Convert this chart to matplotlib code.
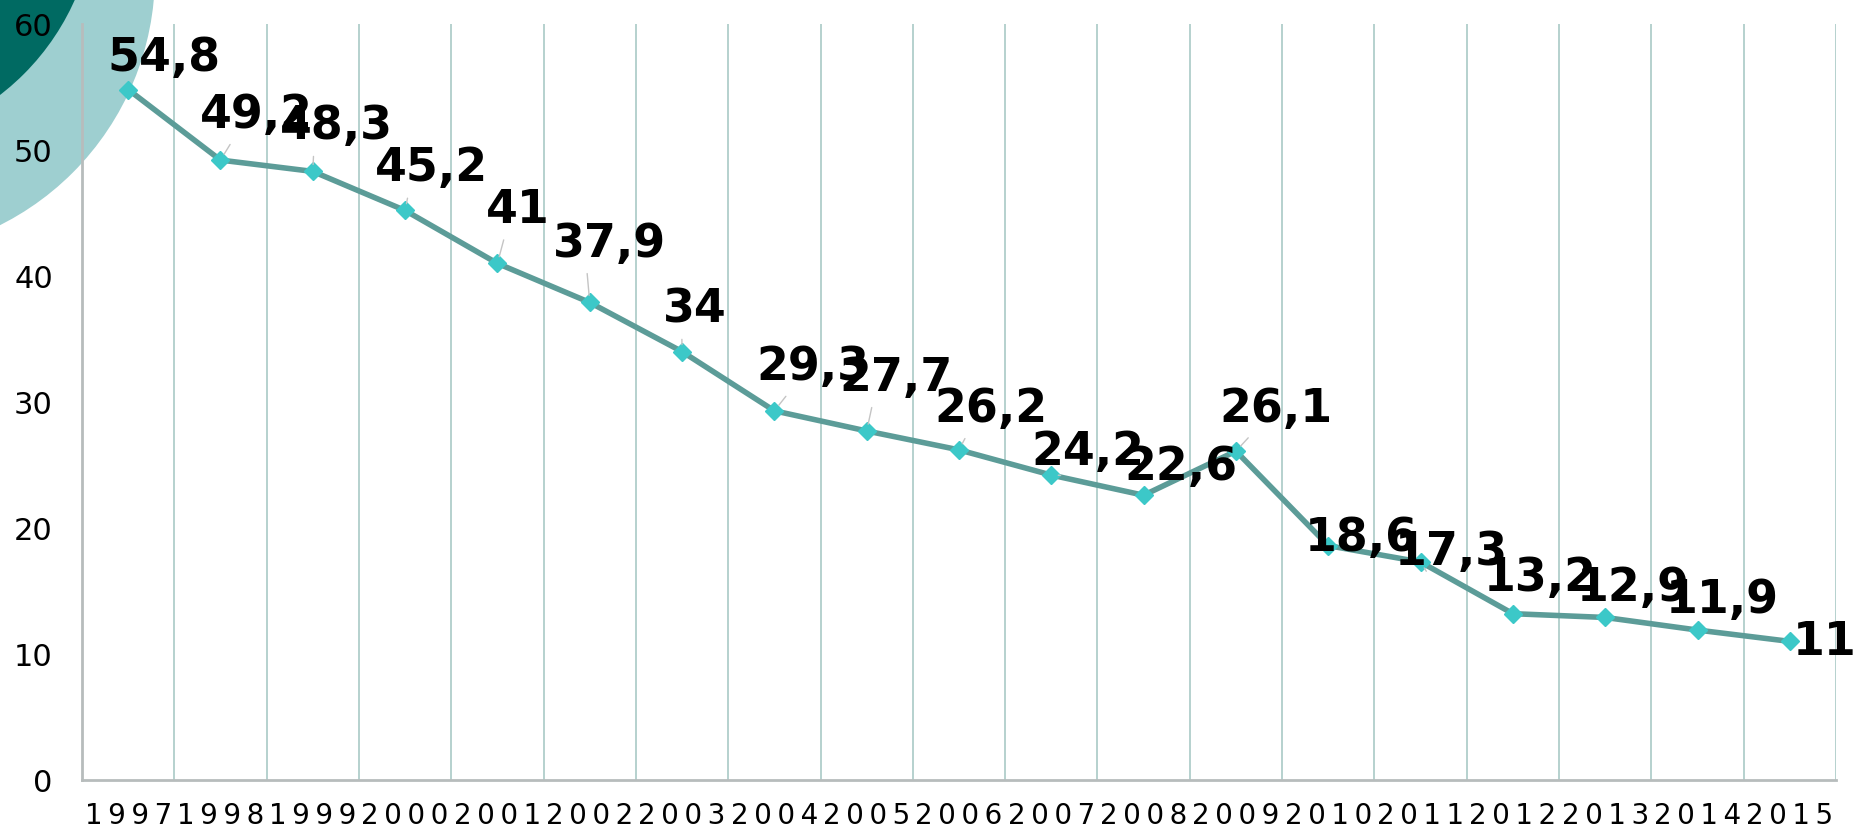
import matplotlib.pyplot as plt
from matplotlib.patches import Circle

years = [1997, 1998, 1999, 2000, 2001, 2002, 2003, 2004, 2005, 2006,
         2007, 2008, 2009, 2010, 2011, 2012, 2013, 2014, 2015]
values = [54.8, 49.2, 48.3, 45.2, 41, 37.9, 34, 29.3, 27.7, 26.2,
          24.2, 22.6, 26.1, 18.6, 17.3, 13.2, 12.9, 11.9, 11]

# label offsets (points) and which labels get a leader line
lab_dx = [26, 26, 17, 19, 15, 14, 9, 28, 21, 23, 26, 27, 29, 24, 22, 20, 20, 18, 25]
lab_dy = [22, 32, 32, 30, 38, 42, 30, 31, 38, 29, 16, 20, 30, 5, 7, 25, 21, 21, -1]
leader = [False, True, True, True, True, True, True, True, True, True,
          True, False, True, False, True, False, False, False, False]

W, H = 1859, 833
fig = plt.figure(figsize=(W / 100, H / 100), dpi=100)

# decorative circles in the top-left corner
bg = fig.add_axes([0, 0, 1, 1], zorder=-1)
bg.set_xlim(0, W)
bg.set_ylim(H, 0)
bg.axis('off')
bg.add_patch(Circle((-126, -26), 281, color='#9ecfd0', lw=0))
bg.add_patch(Circle((-150, -100), 246, color='#006a62', lw=0))

ax = fig.add_axes([82 / W, (H - 780) / H, (1836 - 82) / W, (780 - 24) / H])
ax.set_facecolor('none')

x = list(range(len(years)))
ax.plot(x, values, color='#5c9c98', lw=4, marker='D', ms=9,
        mfc='#3cc8c8', mec='#3cc8c8', zorder=3)


def fmt(v):
    s = ('%g' % v).replace('.', ',')
    return s


for i, v in enumerate(values):
    ap = None
    if leader[i]:
        ap = dict(arrowstyle='-', color='#c4c4c4', lw=1, relpos=(0.3, 0.0),
                  shrinkA=3, shrinkB=5)
    ax.annotate(fmt(v), (x[i], v), xytext=(lab_dx[i], lab_dy[i]),
                textcoords='offset points', ha='center', va='center',
                fontsize=33, fontweight='bold', color='black',
                arrowprops=ap, annotation_clip=False, zorder=4)

ax.set_xlim(-0.5, len(years) - 0.5)
ax.set_ylim(0, 60)
ax.set_yticks(range(0, 61, 10))
ax.set_xticks(x)
ax.set_xticklabels(['\u2009'.join(str(y)) for y in years], fontsize=20)
ax.set_xticks([i + 0.5 for i in x], minor=True)
ax.grid(axis='x', which='minor', color='#a9c9c6', lw=1.2)
ax.tick_params(axis='y', labelsize=22, length=0, pad=21)
ax.tick_params(axis='x', which='both', length=0, pad=16)

for s in ['top', 'right']:
    ax.spines[s].set_visible(False)
for s in ['left', 'bottom']:
    ax.spines[s].set_color('#b7bcbc')
    ax.spines[s].set_linewidth(2)

fig.savefig('out.png', dpi=100)
